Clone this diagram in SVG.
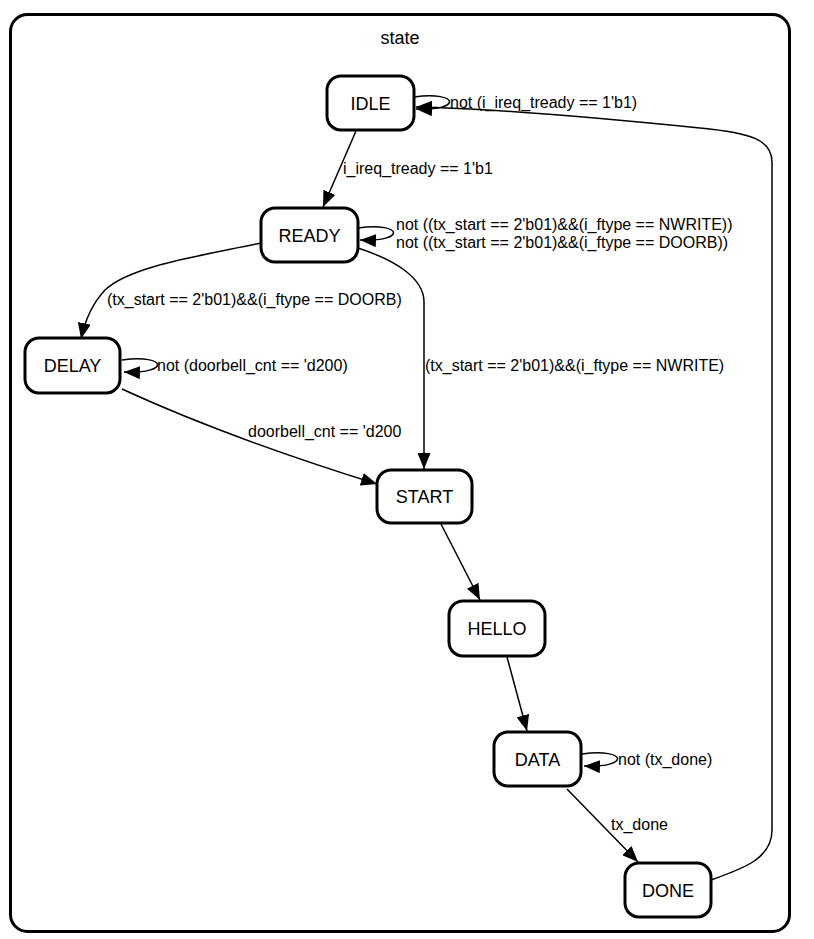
<svg xmlns="http://www.w3.org/2000/svg" width="814" height="939" viewBox="0 0 814 939">
<style>
.cl{fill:#fff;stroke:#000;stroke-width:3}
.nd rect{fill:#fff;stroke:#000;stroke-width:3}
.nd text{font-family:"Liberation Sans",Arial,sans-serif;font-size:18px;text-anchor:middle;fill:#000}
.e path{fill:none;stroke:#000;stroke-width:1.5;marker-end:url(#ah)}
.lb{font-family:"Liberation Sans",Arial,sans-serif;font-size:16px;fill:#000}
.tt{font-family:"Liberation Sans",Arial,sans-serif;font-size:18px;text-anchor:middle}
</style>
<defs>
<marker id="ah" markerUnits="userSpaceOnUse" markerWidth="17" markerHeight="13" refX="16" refY="6.5" orient="auto">
<path d="M0,0 L16,6.5 L0,13 Z" fill="#000"/>
</marker>
</defs>
<rect width="814" height="939" fill="#fff"/>
<g id="cluster_state">
<rect class="cl" x="10.5" y="14.5" width="779" height="917" rx="17"/>
<text class="tt" x="400" y="44">state</text>
</g>
<g id="edges" class="e">
<path d="M414,97 C460,91 462,111 416,109"/>
<path d="M356,131 L323,207"/>
<path d="M358,228 C404,222 406,242 360,240"/>
<path d="M261,243 C200,256 130,266 105,290 C92,304 85,320 81,339"/>
<path d="M358,248 C395,260 424,278 424,302 L424,469"/>
<path d="M122,360 C168,354 170,374 124,372"/>
<path d="M122,389 C200,425 300,460 377,484"/>
<path d="M441,524 L480,600"/>
<path d="M507,657 L527,731"/>
<path d="M582,754 C628,748 630,768 584,766"/>
<path d="M567,789 L638,862"/>
<path d="M711,880 C745,868 772,858 772,830 L772,162 C772,140 752,133 700,128 C600,118 480,108 416,107"/>
</g>
<g id="edge-labels">
<text class="lb" x="450" y="108">not (i_ireq_tready == 1'b1)</text>
<text class="lb" x="343" y="174">i_ireq_tready == 1'b1</text>
<text class="lb" x="396" y="230">not ((tx_start == 2'b01)&amp;&amp;(i_ftype == NWRITE))</text>
<text class="lb" x="396" y="248">not ((tx_start == 2'b01)&amp;&amp;(i_ftype == DOORB))</text>
<text class="lb" x="107" y="305">(tx_start == 2'b01)&amp;&amp;(i_ftype == DOORB)</text>
<text class="lb" x="425" y="371">(tx_start == 2'b01)&amp;&amp;(i_ftype == NWRITE)</text>
<text class="lb" x="157" y="371">not (doorbell_cnt == 'd200)</text>
<text class="lb" x="248" y="437">doorbell_cnt == 'd200</text>
<text class="lb" x="618" y="765">not (tx_done)</text>
<text class="lb" x="611" y="830">tx_done</text>
</g>
<g id="IDLE" class="nd"><rect x="327" y="76" width="87" height="54" rx="14"/><text x="370.5" y="109.5">IDLE</text></g>
<g id="READY" class="nd"><rect x="261" y="208" width="97" height="54" rx="14"/><text x="309.5" y="241.5">READY</text></g>
<g id="DELAY" class="nd"><rect x="25" y="338" width="95" height="55" rx="14"/><text x="72.5" y="371.5">DELAY</text></g>
<g id="START" class="nd"><rect x="377" y="470" width="95" height="53" rx="14"/><text x="424.5" y="503">START</text></g>
<g id="HELLO" class="nd"><rect x="449" y="601" width="96" height="55" rx="14"/><text x="497" y="634.5">HELLO</text></g>
<g id="DATA" class="nd"><rect x="494" y="732" width="87" height="54" rx="14"/><text x="537.5" y="765.5">DATA</text></g>
<g id="DONE" class="nd"><rect x="625" y="863" width="86" height="54" rx="14"/><text x="668" y="896.5">DONE</text></g>
</svg>
